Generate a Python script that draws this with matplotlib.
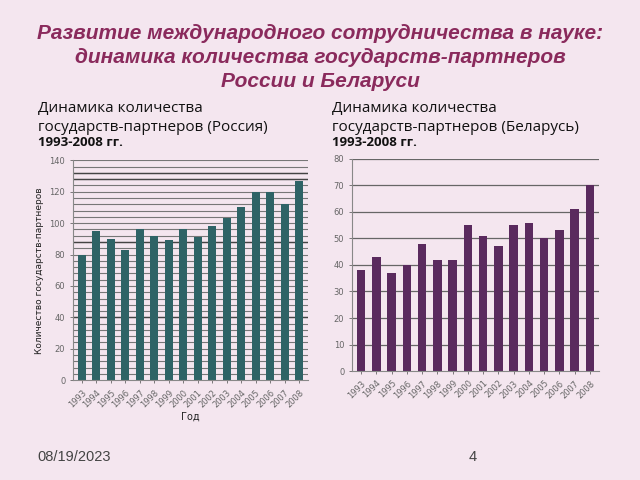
import numpy as np
import matplotlib.pyplot as plt

years = [str(y) for y in range(1993, 2009)]
russia = [80, 95, 90, 83, 96, 92, 89, 96, 91, 98, 103, 110, 120, 120, 112, 127]
belarus = [38, 43, 37, 40, 48, 42, 42, 55, 51, 47, 55, 56, 50, 53, 61, 70]

bg = '#f4e6ef'
title_col = '#8a2a5c'
tick_col = '#666666'

fig = plt.figure(figsize=(6.4, 4.8), dpi=100)
fig.patch.set_facecolor(bg)

tkw = dict(ha='center', va='center', fontsize=15, fontweight='bold', style='italic',
           color=title_col, family='Liberation Sans')
fig.text(0.5, 0.930, 'Развитие международного сотрудничества в науке:', **tkw)
fig.text(0.5, 0.880, 'динамика количества государств-партнеров', **tkw)
fig.text(0.5, 0.830, 'России и Беларуси', **tkw)

sub = dict(fontsize=11, color='#111111', family='Open Sans', va='center')
fig.text(0.059, 0.773, 'Динамика количества', **sub)
fig.text(0.059, 0.734, 'государств-партнеров (Россия)', **sub)
fig.text(0.059, 0.703, '1993-2008 гг.', fontsize=9.5, fontweight='bold', color='#111111',
         family='Open Sans', va='center')
fig.text(0.519, 0.773, 'Динамика количества', **sub)
fig.text(0.519, 0.734, 'государств-партнеров (Беларусь)', **sub)
fig.text(0.519, 0.703, '1993-2008 гг.', fontsize=9.5, fontweight='bold', color='#111111',
         family='Open Sans', va='center')

x = np.arange(len(years))

# Russia
ax1 = fig.add_axes([0.114, 0.208, 0.367, 0.458])
ax1.set_facecolor(bg)
for v in np.arange(4, 141, 4):
    ax1.axhline(v, color='#777777', lw=0.8, zorder=0)
for v in [40, 88, 128, 132]:
    ax1.axhline(v, color='#444444', lw=1.0, zorder=0)
ax1.bar(x, russia, width=0.55, color='#2e6366', zorder=2)
ax1.set_ylim(0, 140)
ax1.set_xlim(-0.6, len(years) - 0.4)
ax1.set_yticks(range(0, 141, 20))
ax1.set_xticks(x)
ax1.set_xticklabels(years, rotation=45, ha='right', rotation_mode='anchor')
ax1.set_ylabel('Количество государств-партнеров', fontsize=6.5, color='#222222')
ax1.set_xlabel('Год', fontsize=7, color='#222222', labelpad=2)

# Belarus
ax2 = fig.add_axes([0.55, 0.227, 0.386, 0.442])
ax2.set_facecolor(bg)
for v in range(10, 81, 10):
    ax2.axhline(v, color='#666666', lw=0.9, zorder=0)
ax2.bar(x, belarus, width=0.55, color='#5a2a5e', zorder=2)
ax2.set_ylim(0, 80)
ax2.set_xlim(-0.6, len(years) - 0.4)
ax2.set_yticks(range(0, 81, 10))
ax2.set_xticks(x)
ax2.set_xticklabels(years, rotation=45, ha='right', rotation_mode='anchor')

for ax in (ax1, ax2):
    for s in ['top', 'right']:
        ax.spines[s].set_visible(False)
    ax.spines['left'].set_color('#888888')
    ax.spines['bottom'].set_color('#888888')
    ax.tick_params(labelsize=6, colors=tick_col, length=2, width=0.6)

fig.text(0.059, 0.047, '08/19/2023', fontsize=10.5, color='#444444', va='center', family='Liberation Sans')
fig.text(0.733, 0.047, '4', fontsize=10.5, color='#444444', va='center', family='Liberation Sans')

plt.savefig('out.png', dpi=100, facecolor=bg)
